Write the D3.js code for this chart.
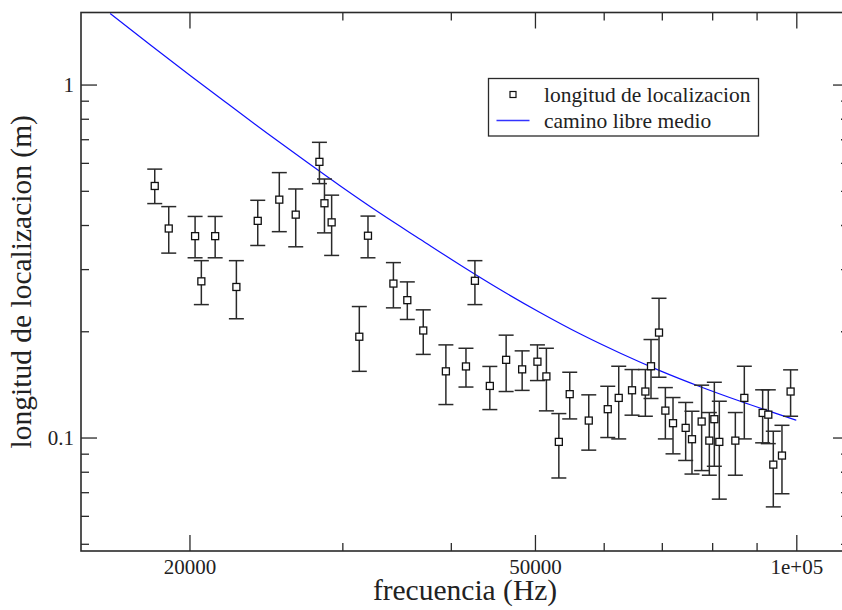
<!DOCTYPE html>
<html>
<head>
<meta charset="utf-8">
<script src="https://cdn.jsdelivr.net/npm/d3@7"></script>
<style>
  body { margin: 0; background: #fff; }
  svg { display: block; font-family: "Liberation Serif", "DejaVu Serif", serif; }
</style>
</head>
<body>
<svg id="chart" width="842" height="610"></svg>
<script>
// measured localisation length, with error bar ends (m) against frequency (Hz)
var freq = [18240, 18930, 20300, 20640, 21410, 22650, 23970, 25380, 26510, 28230,
  28610, 29160, 31380, 32110, 34350, 35640, 37180, 39480, 41640, 42640,
  44360, 46320, 48330, 50330, 51540, 53270, 54830, 57670, 60650, 62440,
  64680, 67010, 68020, 69480, 70660, 72110, 74570, 75830, 77800, 79400,
  80460, 81530, 85070, 87120, 91460, 92840, 94080, 96270, 98500];
var locLength = [0.516, 0.391, 0.372, 0.277, 0.372, 0.267, 0.411, 0.472, 0.428, 0.604,
  0.461, 0.407, 0.193, 0.373, 0.273, 0.245, 0.201, 0.154, 0.159, 0.278,
  0.140, 0.166, 0.156, 0.164, 0.149, 0.0972, 0.1327, 0.1117, 0.1203, 0.1295,
  0.1361, 0.1350, 0.1592, 0.1983, 0.1192, 0.1098, 0.1065, 0.0989, 0.1110, 0.0980,
  0.1127, 0.0972, 0.0980, 0.1295, 0.1174, 0.1161, 0.0838, 0.0889, 0.1350];
var errUpper = [0.576, 0.451, 0.423, 0.317, 0.423, 0.317, 0.470, 0.563, 0.506, 0.686,
  0.540, 0.486, 0.235, 0.424, 0.313, 0.276, 0.230, 0.183, 0.179, 0.317,
  0.159, 0.195, 0.176, 0.183, 0.179, 0.1169, 0.1531, 0.1321, 0.1397, 0.1592,
  0.1558, 0.1558, 0.1895, 0.2480, 0.1385, 0.1298, 0.1257, 0.1187, 0.1407, 0.1177,
  0.1434, 0.1267, 0.1177, 0.1592, 0.1365, 0.1365, 0.1042, 0.1083, 0.1555];
var errLower = [0.460, 0.333, 0.323, 0.238, 0.323, 0.217, 0.350, 0.383, 0.347, 0.524,
  0.380, 0.328, 0.154, 0.323, 0.233, 0.216, 0.172, 0.124, 0.139, 0.238,
  0.120, 0.135, 0.136, 0.145, 0.119, 0.0768, 0.1129, 0.0921, 0.1000, 0.0991,
  0.1157, 0.1149, 0.1290, 0.1482, 0.0991, 0.0899, 0.0861, 0.0788, 0.0806, 0.0782,
  0.0829, 0.0669, 0.0782, 0.0991, 0.0966, 0.0961, 0.0636, 0.0693, 0.1149];

// mean free path curve
var mfpFreq = [16205, 18050, 20070, 22120, 24600, 27350, 29870, 33200, 36920, 41050,
  45630, 50740, 56410, 62720, 69730, 77530, 86190, 95850, 100000];
var mfpLength = [1.589, 1.292, 1.058, 0.8835, 0.7266, 0.6012, 0.5151, 0.431, 0.3639, 0.3077,
  0.2622, 0.2257, 0.1964, 0.1733, 0.1545, 0.1393, 0.1267, 0.1159, 0.1119];

var xMajor = [20000, 50000, 100000];
var xMinor = [30000, 40000, 60000, 70000, 80000, 90000];
var yMajor = [0.1, 1];
var yMinor = [0.05, 0.06, 0.07, 0.08, 0.09, 0.2, 0.3, 0.4, 0.5, 0.6, 0.7, 0.8, 0.9];

var legendLabels = ['longitud de localizacion', 'camino libre medio'];
var xTitle = 'frecuencia (Hz)';
var yTitle = 'longitud de localizacion (m)';

var padLeft = 81, padRight = 849, padTop = 12.5, padBottom = 551;
var ink = '#2a2a2a';

var svg = d3.select('#chart');

var x = d3.scaleLog().domain([15000, 115000]).range([padLeft, padRight]);
var y = d3.scaleLog().domain([0.0477, 1.6]).range([padBottom, padTop]);

function fmtX(d) {
  return d === 100000 ? '1e+05' : String(d);
}

/**
 * Draws one set of ticks on a side of the frame, pointing inwards.
 */
function drawTicks(axisFn, scale, pos, values, size, fmt) {
  var axis = axisFn(scale)
    .tickValues(values)
    .tickSize(-size)
    .tickPadding(8)
    .tickFormat(fmt || '');
  var g = svg.append('g')
    .attr('transform', pos)
    .call(axis);
  g.select('.domain').remove();
  g.selectAll('.tick line').attr('stroke', ink).attr('stroke-width', 1.3);
  g.selectAll('.tick text')
    .attr('fill', '#222')
    .style('font-family', '"Liberation Serif", serif')
    .style('font-size', '21px');
  return g;
}

drawTicks(d3.axisBottom, x, 'translate(0,' + padBottom + ')', xMajor, 16, fmtX);
drawTicks(d3.axisBottom, x, 'translate(0,' + padBottom + ')', xMinor, 8);
drawTicks(d3.axisTop, x, 'translate(0,' + padTop + ')', xMajor, 16);
drawTicks(d3.axisTop, x, 'translate(0,' + padTop + ')', xMinor, 8);
var yLab = drawTicks(d3.axisLeft, y, 'translate(' + padLeft + ',0)', yMajor, 16, d3.format(''));
yLab.selectAll('.tick text').attr('x', -7);
drawTicks(d3.axisLeft, y, 'translate(' + padLeft + ',0)', yMinor, 8);
drawTicks(d3.axisRight, y, 'translate(' + padRight + ',0)', yMajor, 16);
drawTicks(d3.axisRight, y, 'translate(' + padRight + ',0)', yMinor, 8);

// frame
svg.append('rect')
  .attr('x', padLeft)
  .attr('y', padTop)
  .attr('width', padRight - padLeft)
  .attr('height', padBottom - padTop)
  .attr('fill', 'none')
  .attr('stroke', ink)
  .attr('stroke-width', 1.6);

// mean free path
var curve = mfpFreq.map(function(f, i) { return [f, mfpLength[i]]; });
svg.append('path')
  .datum(curve)
  .attr('fill', 'none')
  .attr('stroke', '#1010ff')
  .attr('stroke-width', 1.2)
  .attr('d', d3.line()
    .x(function(d) { return x(d[0]); })
    .y(function(d) { return y(d[1]); })
    .curve(d3.curveMonotoneX));

// error bars
var pts = freq.map(function(f, i) {
  return {f: f, v: locLength[i], hi: errUpper[i], lo: errLower[i]};
});
var cap = 7.5;
var bars = svg.append('g')
  .attr('stroke', ink)
  .attr('stroke-width', 1.5);
bars.selectAll('g')
  .data(pts)
  .enter()
  .append('g')
  .each(function(d) {
    var g = d3.select(this), cx = x(d.f);
    g.append('line')
      .attr('x1', cx).attr('x2', cx)
      .attr('y1', y(d.hi)).attr('y2', y(d.lo));
    g.append('line')
      .attr('x1', cx - cap).attr('x2', cx + cap)
      .attr('y1', y(d.hi)).attr('y2', y(d.hi));
    g.append('line')
      .attr('x1', cx - cap).attr('x2', cx + cap)
      .attr('y1', y(d.lo)).attr('y2', y(d.lo));
  });

// square markers
var sq = 7;
svg.append('g')
  .selectAll('rect')
  .data(pts)
  .enter()
  .append('rect')
  .attr('x', function(d) { return x(d.f) - sq / 2; })
  .attr('y', function(d) { return y(d.v) - sq / 2; })
  .attr('width', sq)
  .attr('height', sq)
  .attr('fill', '#fff')
  .attr('stroke', '#111')
  .attr('stroke-width', 1.3);

// legend
var lg = svg.append('g');
lg.append('rect')
  .attr('x', 488.5).attr('y', 78.5)
  .attr('width', 270).attr('height', 57.5)
  .attr('fill', '#fff')
  .attr('stroke', ink)
  .attr('stroke-width', 1.3);
lg.append('rect')
  .attr('x', 510).attr('y', 91.5)
  .attr('width', 6).attr('height', 6)
  .attr('fill', '#fff')
  .attr('stroke', '#111')
  .attr('stroke-width', 1.2);
lg.append('line')
  .attr('x1', 496.5).attr('x2', 529.5)
  .attr('y1', 120.5).attr('y2', 120.5)
  .attr('stroke', '#3333ff')
  .attr('stroke-width', 1.6);
lg.selectAll('text')
  .data(legendLabels)
  .enter()
  .append('text')
  .attr('x', 544)
  .attr('y', function(d, i) { return 101.7 + i * 26.6; })
  .attr('fill', '#222')
  .style('font-size', '21.5px')
  .text(String);

// axis titles
svg.append('text')
  .attr('x', (padLeft + padRight) / 2)
  .attr('y', 600)
  .attr('text-anchor', 'middle')
  .attr('fill', '#222')
  .style('font-size', '29.5px')
  .text(xTitle);

svg.append('text')
  .attr('transform', 'translate(31,' + (padTop + padBottom) / 2 + ') rotate(-90)')
  .attr('text-anchor', 'middle')
  .attr('fill', '#222')
  .style('font-size', '29.5px')
  .text(yTitle);
</script>
</body>
</html>
